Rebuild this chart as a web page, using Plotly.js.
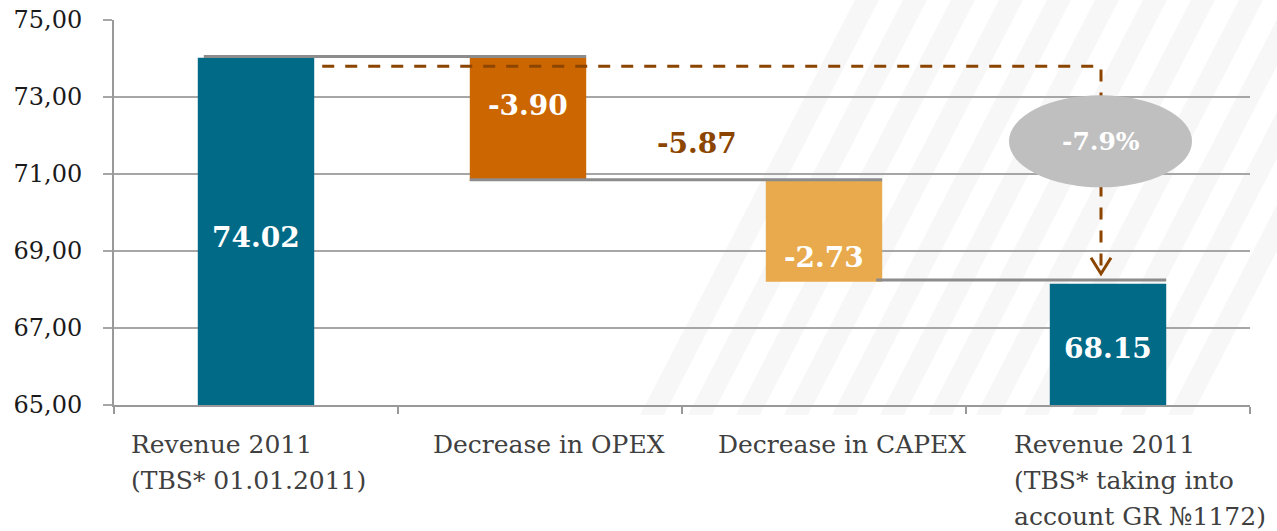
<!DOCTYPE html>
<html>
<head>
<meta charset="utf-8">
<script src="https://cdn.plot.ly/plotly-3.0.1.min.js"></script>
<style>
  html, body { margin: 0; padding: 0; background: #ffffff; }
  #chart { width: 1277px; height: 531px; }
</style>
</head>
<body>
<div id="chart"></div>
<script>
// ---- data ----
const categories = [
  'Revenue 2011<br>(TBS* 01.01.2011)',
  'Decrease in OPEX',
  'Decrease in CAPEX',
  'Revenue 2011<br>(TBS* taking into<br>account GR №1172)'
];
const barBottom = [0, 70.82, 68.20, 0];
const barTop = [74.02, 74.02, 70.82, 68.15];
const barLabels = ['74.02', '-3.90', '-2.73', '68.15'];
const totalChangeLabel = '-5.87';
const totalChangePct = '-7.9%';
const yTickVals = [65, 67, 69, 71, 73, 75];
const yTickText = ['65,00', '67,00', '69,00', '71,00', '73,00', '75,00'];

// ---- styles ----
const barColors = ['#006A87', '#CC6600', '#E8AA4C', '#006A87'];
const brown = '#8B4500';
const W = 1277, H = 531;
const M = { l: 114, r: 27, t: 20, b: 126 };
const plotW = W - M.l - M.r, plotH = H - M.t - M.b;
const xRange = [-0.5, categories.length - 0.5];
const yRange = [65, 75];
const xpx = (xRange[1] - xRange[0]) / plotW;   // data units per pixel
const ypx = (yRange[1] - yRange[0]) / plotH;
const bw = 0.41;
const barShiftPx = [0, -12, 0, 0];
const xs = categories.map((_, i) => i);
const bl = i => xs[i] + barShiftPx[i] * xpx - bw / 2;  // bar left edge
const br = i => xs[i] + barShiftPx[i] * xpx + bw / 2;  // bar right edge

const trace = {
  type: 'bar',
  x: xs,
  y: barTop.map((t, i) => t - barBottom[i]),
  base: barBottom,
  width: bw,
  offset: barShiftPx.map(s => s * xpx - bw / 2),
  marker: { color: barColors, line: { width: 0 } },
  hoverinfo: 'skip',
  showlegend: false
};

const shapes = [];

// faint decorative diagonal stripes in the background (paper coordinates)
const toPX = px => (px - M.l) / plotW;
const toPY = py => (H - M.b - py) / plotH;
for (let x0 = 640; x0 <= 1200; x0 += 48) {
  const w = 24, dx = 215;
  shapes.push({
    type: 'path', xref: 'paper', yref: 'paper', layer: 'below',
    path: `M ${toPX(x0)},${toPY(415)} L ${toPX(x0 + w)},${toPY(415)} L ${toPX(x0 + w + dx)},${toPY(0)} L ${toPX(x0 + dx)},${toPY(0)} Z`,
    fillcolor: '#F7F7F7', line: { width: 0 }
  });
}

// connector lines
const conn = { type: 'line', xref: 'x', yref: 'y', layer: 'above', line: { color: '#8C8C8C', width: 3 } };
shapes.push(Object.assign({}, conn, { x0: bl(0) + 6 * xpx, x1: br(1), y0: barTop[0] + 0.03, y1: barTop[0] + 0.03 }));
shapes.push(Object.assign({}, conn, { x0: bl(1), x1: br(2), y0: barBottom[1] + 0.03, y1: barBottom[1] + 0.03 }));
shapes.push(Object.assign({}, conn, { x0: br(2) - 6 * xpx, x1: br(3), y0: barBottom[2] + 0.05, y1: barBottom[2] + 0.05 }));

// dashed brown arrow from the first total to the last total
const arrowX = xs[3] - 7 * xpx;
const dashY = barTop[0] - 8.5 * ypx;
const tipY = barTop[3] + 10 * ypx;
shapes.push({
  type: 'path', xref: 'x', yref: 'y', layer: 'above',
  path: `M ${br(0) + 8 * xpx},${dashY} L ${arrowX},${dashY} L ${arrowX},${tipY}`,
  line: { color: brown, width: 3, dash: '12px,11px' }
});
shapes.push({
  type: 'path', xref: 'x', yref: 'y', layer: 'above',
  path: `M ${arrowX - 10 * xpx},${tipY + 16 * ypx} L ${arrowX},${tipY} L ${arrowX + 10 * xpx},${tipY + 16 * ypx}`,
  line: { color: brown, width: 3 }
});
// grey ellipse with percentage
const ellCX = xs[3] - 7.5 * xpx, ellCY = 71.85;
shapes.push({
  type: 'circle', xref: 'x', yref: 'y', layer: 'above',
  x0: ellCX - 91.5 * xpx, x1: ellCX + 91.5 * xpx,
  y0: ellCY - 46 * ypx, y1: ellCY + 46 * ypx,
  fillcolor: '#BFBFBF', line: { width: 0 }
});

const annotations = [];
const labelShift = [-6, 14, -26, -4];
barLabels.forEach((t, i) => {
  const lo = Math.max(barBottom[i], yRange[0]);
  annotations.push({
    x: xs[i] + barShiftPx[i] * xpx, y: (lo + barTop[i]) / 2, xref: 'x', yref: 'y',
    text: t, showarrow: false, yshift: labelShift[i],
    font: { family: 'DejaVu Serif', size: 28, color: '#FFFFFF', weight: 700 }
  });
});
annotations.push({
  x: xs[1] + 157 * xpx, y: 71.80, xref: 'x', yref: 'y',
  text: totalChangeLabel, showarrow: false,
  font: { family: 'DejaVu Serif', size: 28, color: brown, weight: 700 }
});
annotations.push({
  x: ellCX, y: ellCY, xref: 'x', yref: 'y',
  text: totalChangePct, showarrow: false,
  font: { family: 'DejaVu Serif', size: 25, color: '#FFFFFF', weight: 700 }
});
// category labels, one annotation per line for the wider line spacing
const catShift = [15, 33, 34, 46];
const lineGap = 36;
categories.forEach((c, i) => {
  c.split('<br>').forEach((line, k) => {
    annotations.push({
      x: xs[i] - 0.5, y: 0, xref: 'x', yref: 'paper',
      xanchor: 'left', yanchor: 'top', align: 'left',
      xshift: catShift[i], yshift: -23 - k * lineGap,
      text: line, showarrow: false,
      font: { family: 'DejaVu Serif', size: 25, color: '#404040' }
    });
  });
});

const layout = {
  width: W, height: H,
  margin: M,
  paper_bgcolor: '#FFFFFF',
  plot_bgcolor: 'rgba(0,0,0,0)',
  showlegend: false,
  xaxis: {
    range: xRange, fixedrange: true,
    tickvals: [-0.5, 0.5, 1.5, 2.5, 3.5],
    showticklabels: false,
    ticks: 'outside', ticklen: 7, tickwidth: 2, tickcolor: '#999999',
    showgrid: false, zeroline: false,
    showline: true, linecolor: '#999999', linewidth: 2
  },
  yaxis: {
    range: yRange, fixedrange: true,
    tickvals: yTickVals, ticktext: yTickText,
    ticks: 'outside', ticklen: 9, tickwidth: 2, tickcolor: '#A6A6A6',
    ticklabelstandoff: 16,
    tickfont: { family: 'DejaVu Serif', size: 24, color: '#1A1A1A' },
    showgrid: true, gridcolor: '#A6A6A6', gridwidth: 2,
    zeroline: false,
    showline: true, linecolor: '#999999', linewidth: 2
  },
  shapes: shapes,
  annotations: annotations
};

Plotly.newPlot('chart', [trace], layout, { displayModeBar: false, staticPlot: true });
</script>
</body>
</html>
